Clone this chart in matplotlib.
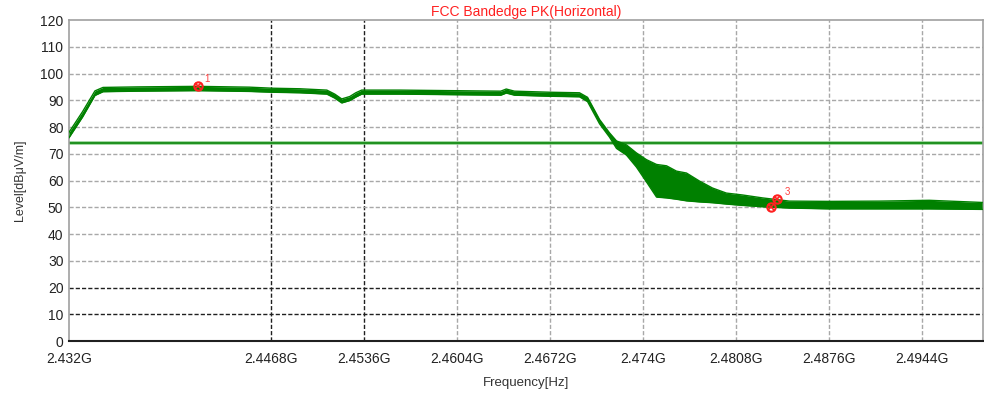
from matplotlib import pyplot as plt

# trace envelope, frequency in GHz, level in dBuV/m
freq = [2.4320, 2.4330, 2.43390, 2.43449, 2.4370, 2.4414, 2.4452, 2.4469,
        2.4489, 2.45087, 2.45145, 2.45196, 2.45255, 2.45299, 2.45342, 2.4562,
        2.4599, 2.4636, 2.4640, 2.4646, 2.4672, 2.46936, 2.46995, 2.47083,
        2.47156, 2.47207, 2.47280, 2.47353, 2.47426, 2.47500, 2.47573, 2.47646,
        2.47719, 2.47814, 2.47909, 2.48011, 2.48128, 2.48275, 2.48472, 2.48765,
        2.49130, 2.49496, 2.49883]
level_hi = [78.0, 85.8, 93.5, 94.8, 95.0, 95.2, 94.9, 94.5,
            94.3, 93.8, 92.3, 90.5, 91.4, 92.8, 93.8, 93.8,
            93.6, 93.4, 94.2, 93.4, 93.0, 92.8, 91.1, 82.8,
            77.8, 74.8, 73.3, 70.3, 67.8, 66.0, 65.5, 63.5,
            62.8, 59.8, 57.2, 55.3, 54.6, 53.5, 52.3, 52.2,
            52.3, 52.6, 51.8]
level_lo = [76.0, 83.8, 91.8, 93.2, 93.4, 93.6, 93.3, 93.0,
            92.8, 92.3, 90.8, 89.0, 89.9, 91.2, 92.3, 92.3,
            92.1, 91.9, 92.7, 91.9, 91.5, 91.3, 89.5, 81.2,
            76.2, 72.0, 69.5, 65.0, 59.5, 53.8, 53.5, 53.0,
            52.4, 52.0, 51.7, 51.2, 50.7, 50.2, 49.7, 49.4,
            49.4, 49.4, 49.2]

limit = 74.0

marker_freq = [2.44143, 2.48341, 2.48385]
marker_level = [95.3, 50.1, 53.1]
marker_names = ['1', '', '3']

tick_freq = [2.432, 2.4468, 2.4536, 2.4604, 2.4672, 2.474, 2.4808, 2.4876, 2.4944]
tick_names = ['2.432G', '2.4468G', '2.4536G', '2.4604G', '2.4672G',
              '2.474G', '2.4808G', '2.4876G', '2.4944G']
dark_vlines = [2.4468, 2.4536]
dark_hlines = [10, 20]

plt.rcParams['font.family'] = ['Liberation Sans', 'DejaVu Sans']

fig = plt.figure(figsize=(9.84, 3.94), dpi=100)
ax = fig.add_axes([0.0701, 0.1345, 0.929, 0.8147])

green = '#008000'

# grid
for t in tick_freq[1:]:
    c = '#202020' if t in dark_vlines else '#a8a8a8'
    ax.axvline(t, color=c, linestyle=(0, (3, 1.5)), linewidth=1.0, zorder=1)
for v in range(10, 120, 10):
    c = '#202020' if v in dark_hlines else '#a8a8a8'
    ax.axhline(v, color=c, linestyle=(0, (3, 1.5)), linewidth=1.0, zorder=1)

# limit line
ax.axhline(limit, color='#8fd08f', linewidth=2.6, zorder=2)
ax.axhline(limit, color=green, linewidth=1.1, zorder=2)

# trace
ax.fill_between(freq, level_lo, level_hi, color=green, linewidth=0, zorder=3)
ax.plot(freq, level_hi, color=green, linewidth=1.0, zorder=3)
ax.plot(freq, level_lo, color=green, linewidth=1.0, zorder=3)

# markers
for f, lv, name in zip(marker_freq, marker_level, marker_names):
    ax.plot(f, lv, marker='o', markersize=6, markerfacecolor='none',
            markeredgecolor='#ff2020', markeredgewidth=1.5, zorder=5)
    ax.plot(f, lv, marker='x', markersize=4, color='#ff2020',
            markeredgewidth=1.2, zorder=5)
    if name:
        ax.annotate(name, (f, lv), textcoords='offset points', xytext=(5, 3),
                    color='#ff4040', fontsize=7, zorder=6)

ax.set_xlim(2.432, 2.4989)
ax.set_ylim(0, 120)
ax.set_yticks(range(0, 121, 10))
ax.set_xticks(tick_freq)
ax.set_xticklabels(tick_names)
ax.tick_params(length=0, labelsize=10, colors='#222222', pad=4)
ax.tick_params(axis='x', pad=8)

for s in ['top', 'right', 'left']:
    ax.spines[s].set_color('#a0a0a0')
    ax.spines[s].set_linewidth(1.2)
ax.spines['bottom'].set_color('#202020')
ax.spines['bottom'].set_linewidth(1.5)

ax.set_title('FCC Bandedge PK(Horizontal)', color='#ff2020', fontsize=10, pad=3)
ax.set_ylabel('Level[dB\u03bcV/m]', fontsize=9, color='#333333', labelpad=10)
ax.set_xlabel('Frequency[Hz]', fontsize=9.5, color='#333333', labelpad=8)

plt.savefig('out.png', dpi=100)
